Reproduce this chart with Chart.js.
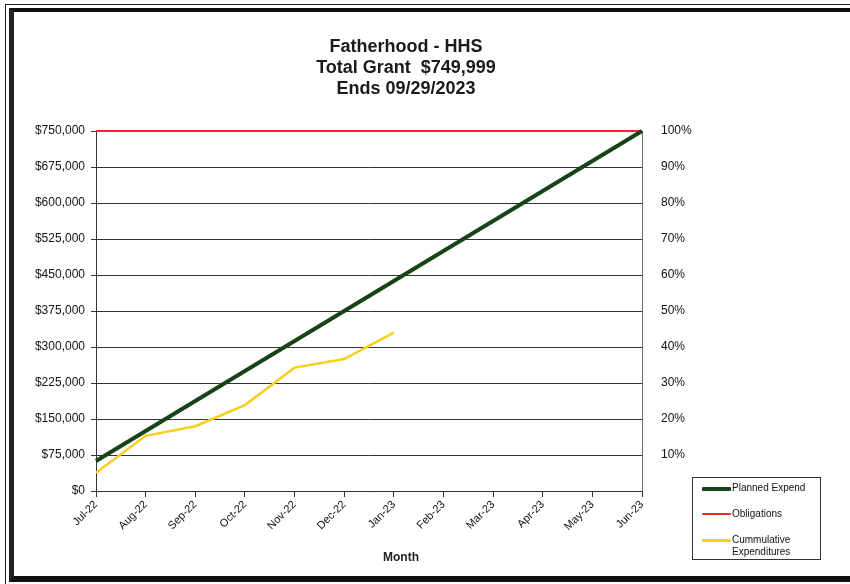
<!DOCTYPE html>
<html>
<head>
<meta charset="utf-8">
<title>Fatherhood - HHS</title>
<script src="https://cdn.jsdelivr.net/npm/chart.js@4/dist/chart.umd.min.js"></script>
<style>
  html, body { margin: 0; padding: 0; background: #fff; }
  body { width: 850px; height: 584px; position: relative; overflow: hidden; font-family: Arial, "Liberation Sans", sans-serif; }
  .marco-ext { position: absolute; left: 5px; top: 4px; width: 860px; height: 600px; border-top: 1px solid #222; border-left: 1px solid #222; }
  .marco { position: absolute; left: 9px; top: 8px; width: 860px; height: 564px; border-top: 4px solid #111; border-left: 5px solid #222; border-bottom: 6px solid #111; }
  #wrap { position: absolute; left: 0; top: 0; width: 850px; height: 584px; }
  .titulo { position: absolute; left: 256px; width: 300px; top: 36px; text-align: center; font-size: 18px; font-weight: bold; line-height: 21px; color: #1a1a1a; }
  .eje-x { position: absolute; left: 361px; width: 80px; top: 550px; text-align: center; font-size: 12px; font-weight: bold; color: #222; }
  #leyenda { position: absolute; left: 692px; top: 477px; width: 129px; height: 83px; border: 1px solid #333; box-sizing: border-box; font-size: 10px; color: #111; }
  .item { position: absolute; left: 9px; display: flex; align-items: flex-start; }
  .muestra { width: 29px; margin-top: 5px; border-radius: 1px; }
  .texto { margin-left: 1px; line-height: 12px; }
</style>
</head>
<body>
<div class="marco-ext"></div>
<div class="marco"></div>
<div id="wrap"><canvas id="grafico"></canvas></div>
<div class="titulo">Fatherhood - HHS<br>Total Grant&nbsp; $749,999<br>Ends 09/29/2023</div>
<div class="eje-x">Month</div>
<div id="leyenda"></div>
<script>
const meses = ["Jul-22", "Aug-22", "Sep-22", "Oct-22", "Nov-22", "Dec-22", "Jan-23", "Feb-23", "Mar-23", "Apr-23", "May-23", "Jun-23"];
const gastoPlanificado = [62500, 125000, 187500, 250000, 312500, 375000, 437500, 500000, 562500, 625000, 687500, 750000];
const obligaciones = [750000, 750000, 750000, 750000, 750000, 750000, 750000, 750000, 750000, 750000, 750000, 750000];
const gastoAcumulado = [38000, 115000, 135000, 179000, 257000, 275000, 330000, null, null, null, null, null];
const ticksDolares = [0, 75000, 150000, 225000, 300000, 375000, 450000, 525000, 600000, 675000, 750000];
const ticksPorcentaje = [10, 20, 30, 40, 50, 60, 70, 80, 90, 100];

const familia = 'Arial, "Liberation Sans", sans-serif';

const series = [
  { label: "Planned Expend", data: gastoPlanificado, color: "#174417", ancho: 4 },
  { label: "Obligations", data: obligaciones, color: "#f0262b", ancho: 2 },
  { label: ["Cummulative", "Expenditures"], data: gastoAcumulado, color: "#f9cf1c", ancho: 2.5 },
];

const canvas = document.getElementById("grafico");
canvas.width = 850;
canvas.height = 584;

new Chart(canvas, {
  type: "line",
  data: {
    labels: meses,
    datasets: series.map((s) => ({
      label: Array.isArray(s.label) ? s.label.join(" ") : s.label,
      data: s.data,
      borderColor: s.color,
      backgroundColor: s.color,
      borderWidth: s.ancho,
      pointRadius: 0,
      tension: 0,
      spanGaps: false,
      clip: 4,
      yAxisID: "y",
    })),
  },
  options: {
    responsive: false,
    animation: false,
    layout: { padding: { left: 0, right: 148, top: 131, bottom: 0 } },
    plugins: { legend: { display: false }, tooltip: { enabled: false } },
    scales: {
      x: {
        grid: { display: true, drawOnChartArea: false, drawTicks: true, tickLength: 6, color: "#333" },
        border: { display: true, color: "#333", width: 1 },
        ticks: { autoSkip: false, minRotation: 45, maxRotation: 45, padding: 1, color: "#111", font: { family: familia, size: 11 } },
        afterFit: (escala) => { escala.height = 93; },
      },
      y: {
        min: 0,
        max: 750000,
        afterBuildTicks: (escala) => { escala.ticks = ticksDolares.map((v) => ({ value: v })); },
        grid: { color: "#333", lineWidth: 1, tickLength: 5 },
        border: { display: true, color: "#333", width: 1 },
        ticks: {
          padding: 6,
          color: "#111",
          font: { family: familia, size: 12 },
          callback: (v) => "$" + Number(v).toLocaleString("en-US"),
        },
        afterFit: (escala) => { escala.width = 96; },
      },
      y2: {
        position: "right",
        min: 0,
        max: 100,
        afterBuildTicks: (escala) => { escala.ticks = ticksPorcentaje.map((v) => ({ value: v })); },
        grid: { display: false, drawTicks: false },
        border: { display: true, color: "#666", width: 1 },
        ticks: { padding: 19, color: "#111", font: { family: familia, size: 12 }, callback: (v) => v + "%" },
        afterFit: (escala) => { escala.width = 60; },
      },
    },
  },
});

// leyenda en HTML, con las mismas series
const leyenda = document.getElementById("leyenda");
const posiciones = [4, 30, 56];
series.forEach((s, i) => {
  const item = document.createElement("div");
  item.className = "item";
  item.style.top = posiciones[i] + "px";
  const muestra = document.createElement("div");
  muestra.className = "muestra";
  muestra.style.height = s.ancho + "px";
  muestra.style.background = s.color;
  const texto = document.createElement("div");
  texto.className = "texto";
  texto.innerHTML = Array.isArray(s.label) ? s.label.join("<br>") : s.label;
  item.appendChild(muestra);
  item.appendChild(texto);
  leyenda.appendChild(item);
});
</script>
</body>
</html>
